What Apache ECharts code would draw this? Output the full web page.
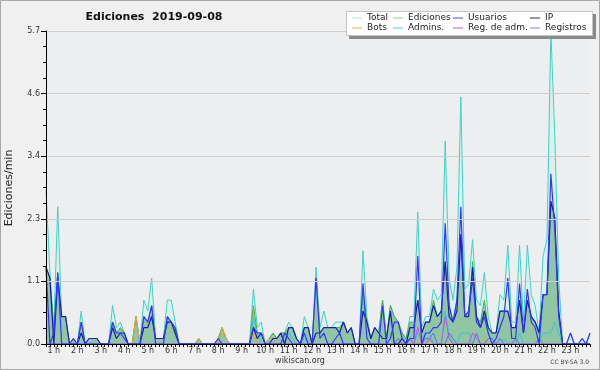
<!DOCTYPE html>
<html>
<head>
<meta charset="utf-8">
<script src="https://cdn.jsdelivr.net/npm/echarts/dist/echarts.min.js"></script>
<style>
html,body{margin:0;padding:0;background:#f0f0f0;}
#c{width:600px;height:370px;}
</style>
</head>
<body>
<div id="c"></div>
<script>
// 10-minute slots from 0:40 to 23:50
const categories = [
'0:40','0:50',
'1:00','1:10','1:20','1:30','1:40','1:50',
'2:00','2:10','2:20','2:30','2:40','2:50',
'3:00','3:10','3:20','3:30','3:40','3:50',
'4:00','4:10','4:20','4:30','4:40','4:50',
'5:00','5:10','5:20','5:30','5:40','5:50',
'6:00','6:10','6:20','6:30','6:40','6:50',
'7:00','7:10','7:20','7:30','7:40','7:50',
'8:00','8:10','8:20','8:30','8:40','8:50',
'9:00','9:10','9:20','9:30','9:40','9:50',
'10:00','10:10','10:20','10:30','10:40','10:50',
'11:00','11:10','11:20','11:30','11:40','11:50',
'12:00','12:10','12:20','12:30','12:40','12:50',
'13:00','13:10','13:20','13:30','13:40','13:50',
'14:00','14:10','14:20','14:30','14:40','14:50',
'15:00','15:10','15:20','15:30','15:40','15:50',
'16:00','16:10','16:20','16:30','16:40','16:50',
'17:00','17:10','17:20','17:30','17:40','17:50',
'18:00','18:10','18:20','18:30','18:40','18:50',
'19:00','19:10','19:20','19:30','19:40','19:50',
'20:00','20:10','20:20','20:30','20:40','20:50',
'21:00','21:10','21:20','21:30','21:40','21:50',
'22:00','22:10','22:20','22:30','22:40','22:50',
'23:00','23:10','23:20','23:30','23:40','23:50'
];
const hourLabels = ['1 h','2 h','3 h','4 h','5 h','6 h','7 h','8 h','9 h','10 h','11 h','12 h',
  '13 h','14 h','15 h','16 h','17 h','18 h','19 h','20 h','21 h','22 h','23 h'];
const yTickLabels = ['0.0','1.1','2.3','3.4','4.6','5.7'];

const total = [
 2.8,1.3,0.3,2.5,0.5,0.5,0,0.1,0,0.6,
 0,0.1,0.1,0.1,0,0,0,0.7,0.3,0.4,
 0.2,0,0,0.5,0,0.8,0.6,1.2,0.1,0.1,
 0.1,0.8,0.8,0.4,0,0,0,0,0,0.1,
 0,0,0,0,0.1,0.3,0.1,0,0,0,
 0,0,0,1.0,0.3,0.4,0,0.1,0.2,0.1,
 0.2,0.2,0.4,0.3,0.1,0,0.5,0.3,0,1.4,
 0.3,0.6,0.3,0.3,0.4,0.4,0.4,0.2,0.3,0,
 0,1.7,0.5,0.1,0.3,0.2,0.8,0.1,0.7,0.5,
 0.4,0.2,0.1,0.5,0.5,2.4,0.3,0.5,0.5,1.0,
 0.8,0.9,3.7,1.2,0.8,1.4,4.5,1.0,1.1,1.9,
 0.8,0.7,1.3,0.5,0.2,0.2,0.9,0.8,1.8,0.4,
 0.4,1.8,0.4,1.8,0.9,0.7,0.2,1.6,1.9,5.7,
 3.8,1.2,0,0,0.2,0,0,0.1,0,0.2];
const ediciones = [
 1.4,1.2,0.2,1.3,0.5,0.5,0,0.1,0,0.4,
 0,0.1,0.1,0.1,0,0,0,0.4,0.2,0.3,
 0.2,0,0,0.5,0,0.5,0.4,0.7,0.1,0.1,
 0.1,0.5,0.4,0.3,0,0,0,0,0,0.1,
 0,0,0,0,0.1,0.3,0.1,0,0,0,
 0,0,0,0.7,0.2,0.2,0,0.1,0.2,0.1,
 0.2,0.2,0.3,0.3,0.1,0,0.3,0.3,0,1.2,
 0.2,0.3,0.3,0.3,0.3,0.3,0.4,0.2,0.3,0,
 0,1.0,0.4,0.1,0.3,0.2,0.8,0.1,0.7,0.5,
 0.4,0.2,0.1,0.4,0.4,0.8,0.2,0.4,0.4,0.8,
 0.5,0.6,1.5,0.7,0.4,0.8,2.0,0.5,0.6,1.5,
 0.5,0.4,0.8,0.3,0.2,0.2,0.6,0.6,0.6,0.3,
 0.3,0.8,0.2,0.8,0.5,0.4,0.2,0.9,0.9,2.6,
 2.3,0.6,0,0,0,0,0,0,0,0];
const usuarios = [
 1.4,0,0.2,1.3,0,0,0,0.1,0,0.4,
 0,0,0,0,0,0,0,0.4,0.2,0.2,
 0.1,0,0,0,0,0.5,0.4,0.7,0,0,
 0,0.5,0.4,0.3,0,0,0,0,0,0,
 0,0,0,0,0.1,0,0,0,0,0,
 0,0,0,0.3,0.2,0.2,0,0,0,0,
 0,0.2,0.1,0,0,0,0.2,0,0,1.2,
 0.1,0.2,0,0,0.1,0.2,0,0,0,0,
 0,1.1,0.1,0,0,0,0.7,0,0.1,0.4,
 0.4,0.1,0,0.1,0.1,1.6,0,0.2,0.2,0.3,
 0.3,0.4,2.2,0.7,0.4,0.8,2.5,0.5,0.6,1.2,
 0.4,0.3,0.5,0.2,0,0.1,0.3,0.5,1.2,0.1,
 0.1,1.1,0.2,1.0,0.4,0.3,0,0.9,0.9,3.1,
 2.1,0.5,0,0,0.2,0,0,0.1,0,0.2];
const ip = [
 1.4,1.2,0,1.2,0.5,0.5,0,0,0,0.2,
 0,0.1,0.1,0.1,0,0,0,0.3,0.1,0.2,
 0.2,0,0,0,0,0.3,0.3,0.5,0.1,0.1,
 0.1,0.4,0.4,0.2,0,0,0,0,0,0,
 0,0,0,0,0,0,0,0,0,0,
 0,0,0,0.3,0.1,0.2,0,0,0.1,0.1,
 0.2,0,0.3,0.3,0.1,0,0.3,0.3,0,0.2,
 0.2,0.3,0.3,0.3,0.3,0.2,0.4,0.2,0.3,0,
 0,0.6,0.4,0.1,0.3,0.2,0.1,0.1,0.6,0,
 0,0.1,0,0.3,0.3,0.8,0.2,0.4,0.4,0.7,
 0.5,0.6,1.5,0.5,0.4,0.6,2.0,0.5,0.5,1.4,
 0.5,0.3,0.6,0.3,0.2,0.2,0.6,0.6,0.6,0.3,
 0.3,0.8,0.2,0.8,0.5,0.4,0.2,0.9,0.9,2.6,
 2.3,0.6,0,0,0,0,0,0,0,0];
const bots = [
 0,0,0,0,0,0,0,0,0,0,
 0,0,0,0,0,0,0,0,0,0,
 0,0,0,0.5,0,0,0,0,0,0,
 0,0,0,0,0,0,0,0,0,0.1,
 0,0,0,0,0,0.3,0.1,0,0,0,
 0,0,0,0.2,0,0,0,0.1,0.1,0,
 0,0,0,0,0,0,0,0,0,0,
 0,0,0,0,0,0,0,0,0,0,
 0,0,0,0,0,0,0,0,0,0,
 0,0,0,0,0,0,0,0,0,0,
 0,0,0,0,0,0,0,0,0,0,
 0,0,0.1,0,0,0,0,0,0,0,
 0,0,0,0,0,0,0,0,0,0,
 0,0,0,0,0,0,0,0,0,0];
const admins = [
 0,0,0,0,0,0,0,0,0,0,
 0,0,0,0,0,0,0,0,0,0,
 0,0,0,0,0,0,0,0,0,0,
 0,0,0,0,0,0,0,0,0,0,
 0,0,0,0,0,0,0,0,0,0,
 0,0,0,0.45,0.2,0,0,0,0,0,
 0,0,0.2,0.1,0,0,0.1,0,0,0,
 0,0,0,0,0,0,0,0,0,0,
 0,0,0,0,0,0,0,0,0,0,
 0,0,0,0,0,0.2,0.1,0.2,0.2,0,
 0,0,0.6,0.2,0,0,0.2,0.2,0.2,0,
 0,0,0,0,0,0,0,0.1,0,0,
 0,0.2,0,0,0,0,0,0.2,0.2,0.2,
 0.4,0.2,0,0,0,0,0,0,0,0];
const regAdm = [
 0,0,0,0,0,0,0,0,0,0,
 0,0,0,0,0,0,0,0,0,0,
 0,0,0,0,0,0,0,0,0,0,
 0,0,0,0,0,0,0,0,0,0,
 0,0,0,0,0,0,0,0,0,0,
 0,0,0,0,0,0,0,0,0,0,
 0,0,0,0,0,0,0,0,0,0,
 0,0,0,0,0,0,0,0,0,0,
 0,0,0,0,0,0,0,0,0,0,
 0,0,0,0,0,0.3,0,0,0.1,0,
 0,0,0.5,0.1,0,0,0,0,0,0.2,
 0.1,0,0,0,0,0,0,0,0,0,
 0,0,0,0,0,0,0,0,0,0,
 0,0,0,0,0,0,0,0,0,0];
const registros = [
 0,0,0,0,0,0,0,0,0,0,
 0,0,0,0,0,0,0,0,0,0,
 0,0,0,0,0,0,0,0,0,0,
 0,0,0,0,0,0,0,0,0,0,
 0,0,0,0,0,0,0,0,0,0,
 0,0,0,0,0,0,0,0,0,0,
 0,0,0,0,0,0,0,0,0,0,
 0,0,0,0,0,0,0,0,0,0,
 0,0,0,0,0,0,0,0,0,0,
 0.1,0,0,0.1,0,0,0,0.1,0.1,0.2,
 0,0,0,0.2,0.1,0,0,0,0,0,
 0.2,0,0,0.1,0.1,0,0.1,0,0,0,
 0.1,0,0,0,0,0,0.1,0,0,0,
 0,0,0,0,0,0,0,0,0,0];

const FONT = 'DejaVu Sans';
const chart = echarts.init(document.getElementById('c'), null, {renderer:'canvas'});

function lineSeries(name, data, color, width, area) {
  const s = {
    name: name, type: 'line', data: data, symbol: 'none', showSymbol: false,
    lineStyle: {color: color, width: width}, itemStyle: {color: color},
    emphasis: {disabled: true}, animation: false
  };
  if (area) s.areaStyle = {color: area, opacity: 1};
  return s;
}

const legendBase = {
  orient: 'vertical', top: 13, padding: 0, itemGap: 0, itemWidth: 10, itemHeight: 1,
  icon: 'rect', selectedMode: false, z: 120,
  textStyle: {fontSize: 9, fontFamily: FONT, color: '#222', lineHeight: 10}
};

chart.setOption({
  backgroundColor: '#f0f0f0',
  animation: false,
  grid: {left: 46, top: 31, width: 544, height: 313, show: true, backgroundColor: '#eceef0', borderWidth: 0},
  xAxis: {
    type: 'category', data: categories, boundaryGap: false, z: 10,
    axisLine: {lineStyle: {color: '#000', width: 1}},
    axisTick: {show: true, interval: 0, length: 3, lineStyle: {color: '#000'}},
    axisLabel: {
      interval: function (i, v) { return v.slice(-3) === ':00'; },
      formatter: function (v) { return hourLabels[parseInt(v, 10) - 1]; },
      fontSize: 8, fontFamily: FONT, color: '#333', margin: 3
    },
    splitLine: {show: false}
  },
  yAxis: {
    type: 'value', min: 0, max: 5.7, interval: 1.14, z: 10,
    axisLine: {show: true, lineStyle: {color: '#000', width: 1}},
    axisTick: {show: true, length: 5, lineStyle: {color: '#000'}},
    minorTick: {show: true, splitNumber: 4, length: 3, lineStyle: {color: '#000'}},
    splitLine: {show: true, lineStyle: {color: '#cdcdcd', width: 1}},
    axisLabel: {
      formatter: function (v, idx) { return yTickLabels[idx]; },
      fontSize: 8, fontFamily: FONT, color: '#333', margin: 6
    }
  },
  legend: [
    Object.assign({}, legendBase, {left: 352, data: [
      {name: 'Total', itemStyle: {color: '#a6e6de'}},
      {name: 'Bots', itemStyle: {color: '#f4a848'}}]}),
    Object.assign({}, legendBase, {left: 393, data: [
      {name: 'Ediciones', itemStyle: {color: '#8ed68e'}},
      {name: 'Admins.', itemStyle: {color: '#4cd0e0'}}]}),
    Object.assign({}, legendBase, {left: 453, data: [
      {name: 'Usuarios', itemStyle: {color: '#4848e0'}},
      {name: 'Reg. de adm.', itemStyle: {color: '#d050e0'}}]}),
    Object.assign({}, legendBase, {left: 530, data: [
      {name: 'IP', itemStyle: {color: '#333333'}},
      {name: 'Registros', itemStyle: {color: '#8080f0'}}]})
  ],
  graphic: [
    {type: 'rect', z: 100, shape: {x: 0.5, y: 0.5, width: 599, height: 369},
      style: {fill: 'none', stroke: '#a8a8a8', lineWidth: 1}},
    {type: 'text', z: 100, x: 154, y: 17,
      style: {text: 'Ediciones  2019-09-08', font: 'bold 11px "DejaVu Sans"', fill: '#111', align: 'center', verticalAlign: 'middle'}},
    {type: 'text', z: 100, x: 9, y: 188, rotation: Math.PI / 2,
      style: {text: 'Ediciones/min', font: '11px "DejaVu Sans"', fill: '#222', align: 'center', verticalAlign: 'middle'}},
    {type: 'text', z: 100, x: 300, y: 361,
      style: {text: 'wikiscan.org', font: '8px "DejaVu Sans"', fill: '#333', align: 'center', verticalAlign: 'middle'}},
    {type: 'text', z: 100, x: 589, y: 362,
      style: {text: 'CC BY-SA 3.0', font: '6px "DejaVu Sans"', fill: '#444', align: 'right', verticalAlign: 'middle'}},
    {type: 'rect', z: 110, shape: {x: 349, y: 14, width: 247, height: 25},
      style: {fill: '#8a8a8a'}},
    {type: 'rect', z: 111, shape: {x: 346.5, y: 11.5, width: 246, height: 24},
      style: {fill: '#ffffff', stroke: '#c4c4c4', lineWidth: 1}}
  ],
  series: [
    lineSeries('Total', total, '#3fd2c4', 1, '#d9f2ee'),
    lineSeries('Ediciones', ediciones, '#4cb44c', 1, '#90c7a2'),
    lineSeries('Bots', bots, '#f0a030', 1),
    lineSeries('Admins.', admins, '#3cc6dc', 1),
    lineSeries('Reg. de adm.', regAdm, '#c850e0', 1),
    lineSeries('Registros', registros, '#6a6af4', 1),
    lineSeries('IP', ip, '#1a1ab4', 1.2),
    lineSeries('Usuarios', usuarios, '#3434ff', 1.2)
  ]
});
</script>
</body>
</html>
